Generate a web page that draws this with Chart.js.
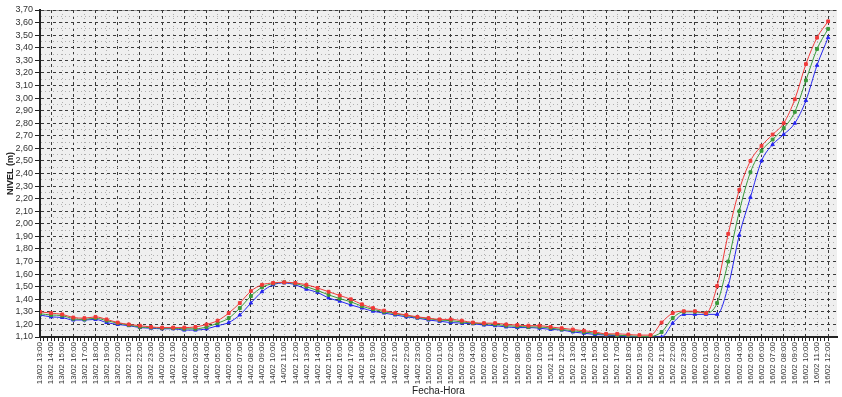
<!DOCTYPE html>
<html>
<head>
<meta charset="utf-8">
<script src="https://cdn.jsdelivr.net/npm/chart.js@4.4.1/dist/chart.umd.min.js"></script>
<style>
  html, body { margin: 0; padding: 0; background: #fff; }
  #wrap { width: 842px; height: 397px; }
</style>
</head>
<body>
<div id="wrap"><canvas id="nivel"></canvas></div>
<script>
var fechas = [
  '13/02 13:00','13/02 14:00','13/02 15:00','13/02 16:00','13/02 17:00','13/02 18:00',
  '13/02 19:00','13/02 20:00','13/02 21:00','13/02 22:00','13/02 23:00',
  '14/02 00:00','14/02 01:00','14/02 02:00','14/02 03:00','14/02 04:00','14/02 05:00',
  '14/02 06:00','14/02 07:00','14/02 08:00','14/02 09:00','14/02 10:00','14/02 11:00',
  '14/02 12:00','14/02 13:00','14/02 14:00','14/02 15:00','14/02 16:00','14/02 17:00',
  '14/02 18:00','14/02 19:00','14/02 20:00','14/02 21:00','14/02 22:00','14/02 23:00',
  '15/02 00:00','15/02 01:00','15/02 02:00','15/02 03:00','15/02 04:00','15/02 05:00',
  '15/02 06:00','15/02 07:00','15/02 08:00','15/02 09:00','15/02 10:00','15/02 11:00',
  '15/02 12:00','15/02 13:00','15/02 14:00','15/02 15:00','15/02 16:00','15/02 17:00',
  '15/02 18:00','15/02 19:00','15/02 20:00','15/02 21:00','15/02 22:00','15/02 23:00',
  '16/02 00:00','16/02 01:00','16/02 02:00','16/02 03:00','16/02 04:00','16/02 05:00',
  '16/02 06:00','16/02 07:00','16/02 08:00','16/02 09:00','16/02 10:00','16/02 11:00',
  '16/02 12:00'
];

var nivelRojo = [
  1.30, 1.29, 1.28, 1.255, 1.25, 1.26, 1.24, 1.215, 1.20, 1.19, 1.18,
  1.175, 1.175, 1.175, 1.18, 1.20, 1.23, 1.29, 1.37, 1.465, 1.515, 1.53, 1.535,
  1.53, 1.515, 1.49, 1.46, 1.43, 1.40, 1.36, 1.33, 1.31, 1.29, 1.275, 1.26,
  1.25, 1.24, 1.24, 1.23, 1.215, 1.21, 1.21, 1.20, 1.195, 1.19, 1.19, 1.18,
  1.17, 1.16, 1.15, 1.14, 1.125, 1.125, 1.12, 1.115, 1.115, 1.215, 1.29, 1.305,
  1.305, 1.29, 1.505, 1.92, 2.27, 2.50, 2.62, 2.71, 2.80, 2.99, 3.27, 3.48,
  3.61
];

var nivelVerde = [
  1.285, 1.275, 1.27, 1.245, 1.24, 1.25, 1.23, 1.21, 1.195, 1.18, 1.175,
  1.17, 1.17, 1.165, 1.165, 1.18, 1.21, 1.25, 1.33, 1.425, 1.495, 1.525, 1.535,
  1.525, 1.50, 1.47, 1.435, 1.405, 1.38, 1.345, 1.32, 1.30, 1.285, 1.27, 1.255,
  1.245, 1.235, 1.23, 1.22, 1.21, 1.205, 1.20, 1.19, 1.185, 1.18, 1.18, 1.17,
  1.16, 1.15, 1.14, 1.13, 1.12, 1.115, 1.11, 1.105, 1.105, 1.14, 1.25, 1.30,
  1.30, 1.29, 1.37, 1.70, 2.10, 2.41, 2.58, 2.67, 2.76, 2.89, 3.14, 3.39,
  3.55
];

var nivelAzul = [
  1.275, 1.26, 1.255, 1.235, 1.235, 1.24, 1.215, 1.20, 1.19, 1.175, 1.17,
  1.165, 1.165, 1.155, 1.155, 1.165, 1.19, 1.215, 1.275, 1.37, 1.46, 1.515, 1.53,
  1.515, 1.48, 1.455, 1.41, 1.385, 1.355, 1.33, 1.305, 1.29, 1.275, 1.26, 1.25,
  1.235, 1.225, 1.215, 1.21, 1.205, 1.195, 1.19, 1.18, 1.175, 1.175, 1.17, 1.16,
  1.155, 1.14, 1.13, 1.12, 1.115, 1.11, 1.105, 1.10, 1.10, 1.10, 1.21, 1.28,
  1.28, 1.28, 1.28, 1.505, 1.91, 2.21, 2.50, 2.63, 2.71, 2.80, 2.98, 3.26,
  3.48
];

var yMin = 1.10, yMax = 3.70;

function puntos(valores) {
  return valores.map(function (v, i) { return { x: i, y: v }; });
}

// fondo gris del area de trazado y linea superior
var fondo = {
  id: 'fondo',
  beforeDraw: function (chart) {
    var a = chart.chartArea, c = chart.ctx;
    c.save();
    c.fillStyle = '#efefef';
    c.fillRect(a.left, a.top, a.right - a.left, a.bottom - a.top);
    c.strokeStyle = '#9a9a9a';
    c.lineWidth = 1;
    c.beginPath();
    c.moveTo(a.left, a.top + 0.5);
    c.lineTo(a.right, a.top + 0.5);
    c.stroke();
    c.restore();
  }
};

function esEntero(v) { return Math.abs(v - Math.round(v)) < 1e-6; }
function esDecima(v) { return Math.abs(v * 10 - Math.round(v * 10)) < 1e-6; }

var serie = function (label, data, color, estilo) {
  return {
    label: label,
    data: puntos(data),
    borderColor: color,
    backgroundColor: color,
    borderWidth: 1,
    pointStyle: estilo,
    pointRadius: 2,
    pointBorderWidth: 1,
    cubicInterpolationMode: 'monotone'
  };
};

new Chart(document.getElementById('nivel'), {
  type: 'line',
  data: {
    datasets: [
      serie('Rojo', nivelRojo, '#f03a3a', 'rect'),
      serie('Verde', nivelVerde, '#3a9a3a', 'rect'),
      serie('Azul', nivelAzul, '#2626f0', 'triangle')
    ]
  },
  plugins: [fondo],
  options: {
    animation: false,
    maintainAspectRatio: false,
    responsive: true,
    layout: { padding: { top: 10, right: 0, left: 0, bottom: 0 } },
    plugins: {
      legend: { display: false },
      tooltip: { enabled: false }
    },
    scales: {
      x: {
        type: 'linear',
        min: 0,
        max: 71.8,
        afterBuildTicks: function (scale) {
          var t = [];
          for (var k = 0; k <= 71 * 3; k++) t.push({ value: k / 3 });
          scale.ticks = t;
        },
        afterFit: function (scale) { scale.height = 60; },
        ticks: {
          autoSkip: false,
          maxRotation: 90,
          minRotation: 90,
          padding: 1,
          color: '#333',
          font: { family: 'Liberation Sans', size: 8 },
          callback: function (value) {
            return esEntero(value) ? fechas[Math.round(value)] : '';
          }
        },
        grid: {
          color: function (ctx) {
            var v = ctx.tick.value;
            if (!esEntero(v) || v === 0) return 'rgba(0,0,0,0)';
            return Math.round(v) % 2 === 1 ? '#3a3a3a' : '#b0b0b0';
          },
          tickColor: '#222',
          tickLength: 4,
          lineWidth: 1
        },
        border: {
          color: '#222',
          width: 2,
          dash: function (ctx) {
            var v = ctx.tick ? ctx.tick.value : 0;
            return Math.round(v) % 2 === 1 ? [3, 3] : [1, 3];
          }
        },
        title: {
          display: true,
          text: 'Fecha-Hora',
          color: '#222',
          font: { family: 'Liberation Sans', size: 10 },
          padding: { top: 0, bottom: 0 }
        }
      },
      y: {
        min: yMin,
        max: yMax,
        afterFit: function (scale) { scale.width = 40; },
        ticks: {
          stepSize: 0.05,
          autoSkip: false,
          padding: 2,
          color: '#333',
          font: { family: 'Liberation Sans', size: 9 },
          callback: function (value) {
            return esDecima(value) ? value.toFixed(2).replace('.', ',') : '';
          }
        },
        grid: {
          color: function (ctx) {
            var v = ctx.tick.value;
            if (Math.abs(v - yMin) < 1e-6) return 'rgba(0,0,0,0)';
            return esDecima(v) ? '#3a3a3a' : '#b0b0b0';
          },
          tickColor: function (ctx) {
            return esDecima(ctx.tick.value) ? '#222' : 'rgba(0,0,0,0)';
          },
          tickLength: 5,
          lineWidth: 1
        },
        border: {
          color: '#222',
          width: 2,
          dash: function (ctx) {
            var v = ctx.tick ? ctx.tick.value : 0;
            return esDecima(v) ? [3, 3] : [1, 3];
          }
        },
        title: {
          display: true,
          text: 'NIVEL (m)',
          color: '#222',
          font: { family: 'Liberation Sans', size: 9, weight: 'bold' },
          padding: { top: 5, bottom: 0 }
        }
      }
    }
  }
});
</script>
</body>
</html>
